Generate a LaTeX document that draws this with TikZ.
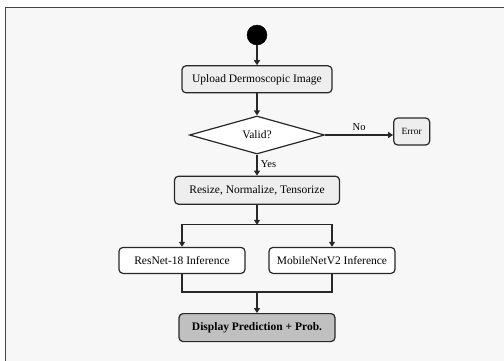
\documentclass[tikz,border=0pt]{standalone}
\usepackage{fontspec}
\setmainfont{Liberation Serif}
\usepackage{tikz}
\usetikzlibrary{arrows.meta, positioning, shapes.geometric}
\definecolor{pagebg}{RGB}{247,247,247}
\definecolor{framegray}{RGB}{68,68,68}
\definecolor{edgegray}{RGB}{40,40,40}
\definecolor{stepfill}{RGB}{238,238,238}
\definecolor{endfill}{RGB}{192,192,192}

\begin{document}
\begin{tikzpicture}[
  stepbox/.style={rectangle, rounded corners=4pt, draw=edgegray, line width=1.2pt,
                  fill=stepfill, minimum height=27pt, inner sep=2pt,
                  font=\fontsize{11.5}{13}\selectfont, text centered},
  modelbox/.style={stepbox, fill=white, minimum width=126pt, minimum height=26pt},
  decision/.style={diamond, draw=edgegray, line width=1.2pt, fill=white, aspect=3.5,
                   minimum width=135pt, minimum height=38pt, inner sep=0pt,
                   font=\fontsize{11.5}{13}\selectfont},
  arrow/.style={-{Triangle[length=5pt, width=6pt]}, line width=1.2pt, draw=edgegray},
  line/.style={line width=1.2pt, draw=edgegray}
]
\useasboundingbox (0pt,0pt) rectangle (504pt,-360pt);
\fill[white] (0pt,0pt) rectangle (504pt,-360pt);
\draw[framegray, fill=pagebg, line width=1pt] (5pt,-7pt) rectangle (520pt,-380pt);

\node[circle, fill=black, draw=black, minimum size=20pt, inner sep=0pt] (start) at (257pt,-35pt) {};
\node[stepbox, minimum width=150pt, below=20pt of start] (upload) {Upload Dermoscopic Image};
\node[decision, below=22pt of upload] (valid) {Valid?};
\node[stepbox, minimum width=36pt, font=\fontsize{9.5}{11}\selectfont,
      right=68pt of valid, yshift=3.5pt] (error) {Error};
\node[stepbox, minimum width=165pt, minimum height=28pt, below=21pt of valid] (prep) {Resize, Normalize, Tensorize};
\coordinate[below=20pt of prep] (split);
\node[modelbox, below=42pt of prep, xshift=-75pt] (resnet) {ResNet-18 Inference};
\node[modelbox, below=42pt of prep, xshift=75pt] (mobile) {MobileNetV2 Inference};
\coordinate[below=18pt of resnet.south -| prep.south] (merge);
\node[stepbox, fill=endfill, minimum width=156pt, minimum height=28pt,
      font=\fontsize{11.5}{13}\selectfont\bfseries, below=39pt of resnet.south -| prep.south, anchor=north] (display) {Display Prediction + Prob.};

\draw[arrow] (start) -- (upload);
\draw[arrow] (upload) -- (valid);
\draw[arrow] (valid.east) -- node[above, font=\fontsize{10.5}{12}\selectfont]{No} (error.west |- valid.east);
\draw[arrow] (valid) -- node[right, font=\fontsize{10.5}{12}\selectfont, yshift=1pt]{Yes} (prep);
\draw[arrow] (prep) -- (split);
\draw[arrow] (split) -| (resnet.north);
\draw[arrow] (split) -| (mobile.north);
\draw[line] (resnet.south) |- (merge) -| (mobile.south);
\draw[arrow] (merge) -- (display);
\end{tikzpicture}
\end{document}
